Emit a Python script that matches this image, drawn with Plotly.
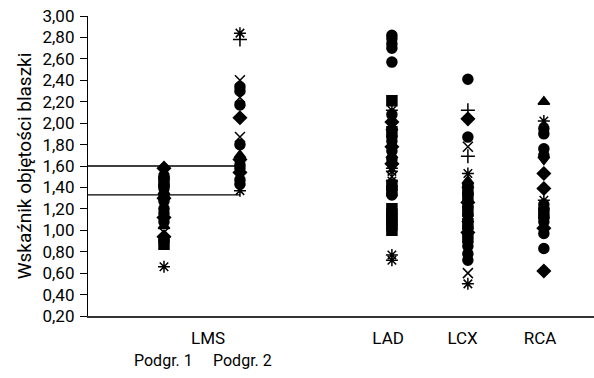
import plotly.graph_objects as go

# ---- data ----
group_labels = ["LMS", "LAD", "LCX", "RCA"]
sub_labels = ["Podgr. 1", "Podgr. 2"]
y_ticks = [0.2, 0.4, 0.6, 0.8, 1.0, 1.2, 1.4, 1.6, 1.8, 2.0, 2.2, 2.4, 2.6, 2.8, 3.0]
ref_lines = [1.60, 1.33]

lms1 = [1.58, 1.51, 1.48, 1.45, 1.42, 1.39, 1.36, 1.33, 1.30, 1.27, 1.24, 1.20,
        1.16, 1.12, 1.08, 1.04, 0.98, 0.94, 0.90, 0.87, 0.66]
lms2 = [2.84, 2.78, 2.40, 2.34, 2.30, 2.24, 2.17, 2.05, 1.87, 1.80, 1.70, 1.66,
        1.61, 1.58, 1.54, 1.47, 1.43, 1.37]
lad = [2.82, 2.79, 2.74, 2.70, 2.57, 2.21, 2.12, 2.08, 2.01, 1.96, 1.92, 1.87,
       1.83, 1.78, 1.74, 1.70, 1.66, 1.62, 1.58, 1.55, 1.50, 1.46, 1.42, 1.37,
       1.33, 1.20, 1.15, 1.10, 1.05, 1.00, 0.77, 0.72]
lcx = [2.41, 2.12, 2.04, 1.87, 1.78, 1.69, 1.53, 1.46, 1.42, 1.38, 1.34, 1.30,
       1.26, 1.22, 1.18, 1.14, 1.10, 1.06, 1.02, 0.98, 0.93, 0.85, 0.78, 0.72,
       0.60, 0.50]
rca = [2.20, 2.02, 1.95, 1.90, 1.76, 1.70, 1.66, 1.53, 1.39, 1.28, 1.24, 1.20,
       1.16, 1.12, 1.08, 1.02, 0.97, 0.83, 0.62]

# ---- styles ----
X = "x-thin-open"
AST = "asterisk-open"
PLUS = "cross-thin-open"
sym_lms1 = ["diamond", "circle", "circle", "square", "circle", "circle", "triangle-up",
            "circle", "diamond", "circle", X, "circle", "circle", "diamond", "circle",
            "triangle-up", X, "diamond", "circle", "square", AST]
sym_lms2 = [AST, PLUS, X, "circle", "circle", X, "circle",
            "diamond", X, "circle", "triangle-up", "diamond", "circle", "circle",
            "diamond", "circle", "circle", AST]
sym_lad = ["circle"] * 5 + ["square", AST, "circle", "diamond", "triangle-up",
           "square", "circle", "circle", "diamond", "circle", "triangle-up", "circle",
           "diamond", AST, AST, X, AST, "square",
           "square", "circle", "square", "square", "square", "square", "square",
           AST, AST]
sym_lcx = ["circle", PLUS, "diamond", "circle", X, PLUS,
           AST, "triangle-up", "triangle-up", "square", "circle", "square",
           "diamond", "circle", "square", "circle", "triangle-up", "square", "circle",
           "diamond", "square", "circle", "circle", "circle", X, AST]
sym_rca = ["triangle-up", AST, "circle", "circle", "circle", "circle",
           "triangle-down", "diamond", "diamond", AST, "circle", "circle",
           "square", "circle", "circle", "diamond", "circle", "circle", "diamond"]

x_pos = {"lms1": 1, "lms2": 2, "lad": 4, "lcx": 5, "rca": 6}
label_pos = [1.58, 3.95, 4.93, 5.95]
sub_pos = [0.99, 2.03]

fig = go.Figure()
for key, vals, syms in [("lms1", lms1, sym_lms1), ("lms2", lms2, sym_lms2),
                        ("lad", lad, sym_lad), ("lcx", lcx, sym_lcx), ("rca", rca, sym_rca)]:
    fig.add_trace(go.Scatter(
        x=[x_pos[key]] * len(vals), y=vals, mode="markers",
        marker=dict(symbol=syms, size=10, color="black",
                    line=dict(color="black", width=1.5)),
        showlegend=False, hoverinfo="y"))

for v in ref_lines:
    fig.add_shape(type="line", xref="x", yref="y", x0=0, x1=x_pos["lms2"], y0=v, y1=v,
                  line=dict(color="black", width=1.3))

font_family = "Roboto, sans-serif"

for txt, xp in zip(sub_labels, sub_pos):
    fig.add_annotation(x=xp, y=-0.147, xref="x", yref="paper", text=txt, showarrow=False,
                       font=dict(size=16, color="black", family=font_family),
                       xanchor="center", yanchor="middle")

fig.update_layout(
    width=594, height=378,
    margin=dict(l=88, r=0, t=16, b=62),
    paper_bgcolor="white", plot_bgcolor="white",
    separators=",.",
    font=dict(family=font_family, color="black", size=16),
    xaxis=dict(range=[0, 6.66], showline=True, linecolor="#333", linewidth=1.5,
               showgrid=False, zeroline=False, ticks="", automargin=False,
               tickvals=label_pos, ticktext=group_labels,
               tickfont=dict(size=17), ticklabelstandoff=6),
    yaxis=dict(range=[0.2, 3.0], showline=True, linecolor="black", linewidth=1.3,
               showgrid=False, zeroline=False, ticks="outside", ticklen=7,
               tickcolor="black", tickvals=y_ticks, tickformat=".2f",
               tickfont=dict(size=17), automargin=False, ticklabelstandoff=2,
               title=dict(text="Wskaźnik objętości blaszki", font=dict(size=19),
                          standoff=5)),
)

fig.write_html("out.html", config={"displayModeBar": False},
               post_script="document.body.style.margin='0';document.body.style.padding='0';")
